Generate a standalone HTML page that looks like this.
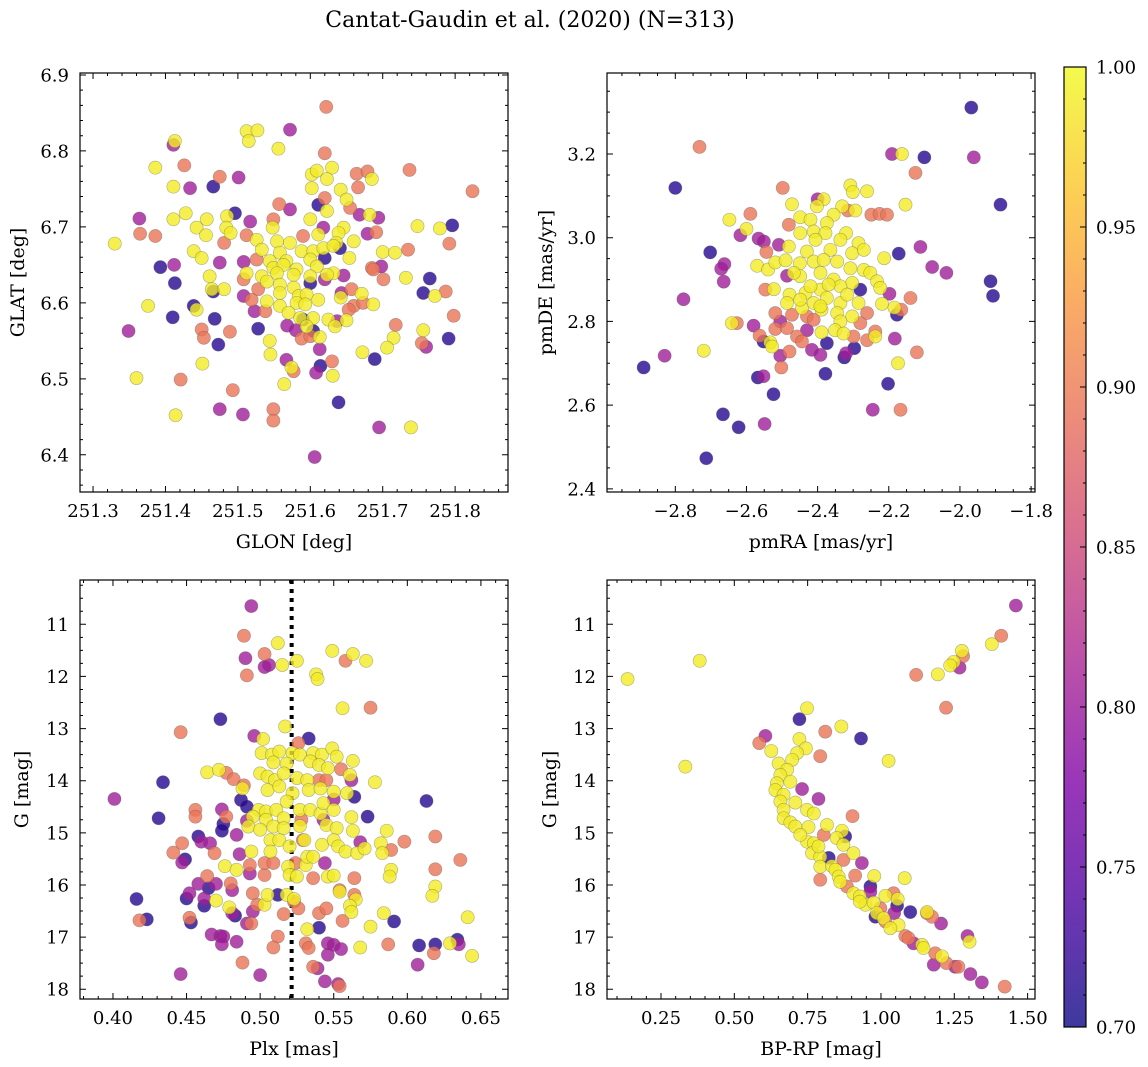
<!DOCTYPE html>
<html><head><meta charset="utf-8">
<style>
html,body{margin:0;padding:0;background:#fff;}
svg{display:block;font-family:"DejaVu Serif","Liberation Serif",serif;}
</style></head>
<body>
<svg id="fig" width="1148" height="1067" viewBox="0 0 1148 1067" xmlns="http://www.w3.org/2000/svg">
<text x="530" y="27" text-anchor="middle" font-size="22">Cantat-Gaudin et al. (2020) (N=313)</text>
</svg>
<script>
// ---------- Panel 1: GLON / GLAT ----------
const p1x=[251.622,251.572,251.512,251.527,251.515,251.413,251.411,251.556,251.620,251.386,251.426,251.737,251.475,251.501,251.411,251.434,251.466,251.602,251.609,251.630,251.623,251.664,251.679,251.685,251.666,251.602,251.642,251.824,251.650,251.620,251.611,251.655,251.557,251.572,251.364,251.411,251.428,251.457,251.485,251.496,251.517,251.549,251.600,251.623,251.668,251.682,251.694,251.748,251.779,251.796,251.365,251.386,251.330,251.443,251.456,251.484,251.490,251.512,251.548,251.618,251.646,251.639,251.679,251.691,251.792,251.481,251.526,251.554,251.572,251.590,251.611,251.636,251.660,251.439,251.533,251.558,251.588,251.604,251.618,251.632,251.641,251.700,251.717,251.735,251.450,251.475,251.508,251.526,251.544,251.567,251.600,251.620,251.654,251.393,251.412,251.549,251.563,251.581,251.609,251.632,251.685,251.698,251.512,251.533,251.554,251.577,251.600,251.623,251.646,251.687,251.701,251.732,251.765,251.413,251.461,251.508,251.540,251.600,251.620,251.558,251.577,251.756,251.787,251.772,251.466,251.464,251.481,251.508,251.528,251.558,251.584,251.595,251.643,251.642,251.657,251.671,251.519,251.540,251.558,251.581,251.593,251.611,251.660,251.673,251.687,251.376,251.439,251.443,251.523,251.538,251.570,251.586,251.604,251.653,251.798,251.410,251.468,251.590,251.625,251.637,251.650,251.718,251.349,251.450,251.453,251.489,251.528,251.568,251.580,251.595,251.604,251.634,251.756,251.715,251.791,251.473,251.544,251.588,251.600,251.613,251.706,251.754,251.760,251.545,251.613,251.672,251.689,251.567,251.630,251.451,251.574,251.577,251.614,251.608,251.631,251.360,251.421,251.564,251.493,251.639,251.475,251.549,251.549,251.507,251.414,251.695,251.739,251.606];
const p1y=[6.858,6.828,6.826,6.827,6.813,6.813,6.808,6.803,6.797,6.778,6.781,6.775,6.766,6.765,6.753,6.751,6.753,6.769,6.774,6.778,6.763,6.770,6.773,6.763,6.752,6.751,6.749,6.747,6.736,6.738,6.729,6.725,6.730,6.723,6.711,6.710,6.718,6.710,6.714,6.718,6.707,6.710,6.710,6.721,6.716,6.716,6.712,6.701,6.698,6.702,6.691,6.688,6.678,6.699,6.689,6.699,6.692,6.689,6.699,6.699,6.699,6.692,6.691,6.693,6.678,6.679,6.683,6.681,6.679,6.688,6.690,6.679,6.681,6.668,6.670,6.666,6.668,6.668,6.672,6.675,6.672,6.667,6.666,6.670,6.659,6.653,6.654,6.657,6.655,6.655,6.657,6.659,6.659,6.647,6.650,6.646,6.650,6.644,6.648,6.639,6.646,6.648,6.639,6.635,6.639,6.637,6.635,6.637,6.636,6.644,6.631,6.633,6.632,6.626,6.635,6.631,6.628,6.626,6.631,6.624,6.620,6.613,6.615,6.609,6.615,6.618,6.618,6.609,6.618,6.613,6.609,6.611,6.613,6.607,6.618,6.612,6.604,6.602,6.596,6.600,6.598,6.604,6.596,6.600,6.598,6.596,6.596,6.591,6.589,6.589,6.587,6.580,6.580,6.591,6.583,6.581,6.579,6.578,6.578,6.576,6.577,6.571,6.563,6.565,6.554,6.562,6.566,6.570,6.564,6.569,6.563,6.569,6.564,6.554,6.553,6.545,6.550,6.553,6.556,6.555,6.541,6.547,6.542,6.532,6.539,6.535,6.526,6.525,6.523,6.520,6.515,6.510,6.517,6.508,6.504,6.501,6.499,6.493,6.485,6.469,6.460,6.460,6.445,6.453,6.452,6.436,6.436,6.397];
const p1c=[.895,.805,.99,.99,.99,.99,.805,.99,.895,.99,.895,.895,.895,.805,.99,.805,.715,.99,.99,.99,.99,.895,.895,.99,.895,.99,.99,.895,.99,.895,.715,.895,.895,.805,.805,.99,.99,.99,.99,.715,.805,.895,.99,.99,.805,.99,.805,.99,.99,.715,.895,.895,.99,.99,.99,.99,.99,.895,.99,.805,.99,.99,.805,.895,.895,.895,.99,.99,.99,.895,.99,.99,.99,.99,.99,.99,.99,.99,.99,.99,.715,.99,.99,.895,.99,.805,.805,.895,.99,.99,.99,.715,.99,.715,.805,.99,.99,.99,.99,.99,.895,.805,.99,.99,.99,.99,.99,.99,.805,.895,.895,.99,.715,.715,.99,.895,.99,.715,.805,.99,.99,.715,.895,.99,.715,.99,.99,.805,.895,.99,.99,.99,.805,.99,.895,.99,.895,.99,.99,.99,.99,.99,.895,.895,.99,.99,.715,.99,.805,.895,.99,.99,.99,.895,.895,.715,.715,.715,.99,.805,.99,.895,.805,.895,.895,.895,.715,.805,.805,.99,.715,.99,.99,.99,.715,.715,.99,.895,.895,.99,.99,.895,.805,.99,.805,.99,.715,.805,.895,.99,.99,.895,.715,.805,.99,.99,.895,.99,.895,.715,.805,.895,.895,.805,.99,.805,.99,.805];

// ---------- Panel 2: pmRA / pmDE ----------
const p2x=[-1.968,-2.732,-2.800,-2.191,-2.163,-2.100,-1.961,-2.125,-2.498,-1.886,-2.308,-2.301,-2.261,-2.153,-2.472,-2.400,-2.383,-2.402,-2.331,-2.315,-2.294,-2.355,-2.249,-2.226,-2.205,-2.589,-2.648,-2.449,-2.420,-2.481,-2.600,-2.617,-2.566,-2.551,-2.509,-2.702,-2.449,-2.411,-2.374,-2.378,-2.320,-2.406,-2.336,-2.285,-2.544,-2.481,-2.430,-2.364,-2.303,-2.270,-2.172,-2.111,-2.662,-2.671,-2.664,-2.570,-2.539,-2.519,-2.490,-2.450,-2.411,-2.383,-2.345,-2.308,-2.270,-2.213,-2.078,-2.038,-1.914,-1.907,-2.777,-2.486,-2.449,-2.392,-2.355,-2.303,-2.252,-2.233,-2.547,-2.523,-2.479,-2.434,-2.392,-2.336,-2.280,-2.224,-2.198,-2.139,-2.486,-2.444,-2.411,-2.374,-2.336,-2.285,-2.219,-2.184,-2.165,-2.519,-2.472,-2.430,-2.389,-2.345,-2.303,-2.261,-2.177,-2.641,-2.627,-2.580,-2.505,-2.411,-2.336,-2.280,-2.563,-2.519,-2.486,-2.430,-2.389,-2.351,-2.327,-2.299,-2.238,-2.238,-2.458,-2.552,-2.533,-2.528,-2.444,-2.374,-2.261,-2.183,-2.505,-2.479,-2.416,-2.392,-2.320,-2.297,-2.325,-2.720,-2.830,-2.889,-2.502,-2.121,-2.174,-2.378,-2.568,-2.552,-2.202,-2.524,-2.245,-2.167,-2.666,-2.622,-2.549,-2.713,-2.467,-2.420,-2.369,-2.317,-2.449,-2.392];
const p2y=[3.311,3.217,3.119,3.200,3.200,3.192,3.192,3.155,3.119,3.079,3.125,3.109,3.111,3.079,3.080,3.092,3.092,3.075,3.075,3.065,3.065,3.055,3.055,3.057,3.055,3.057,3.043,3.049,3.043,3.031,3.021,3.006,2.998,2.991,2.983,2.965,3.011,3.015,3.035,3.011,3.011,2.995,2.995,2.987,2.966,2.979,2.967,2.971,2.963,2.971,2.962,2.978,2.937,2.926,2.895,2.933,2.924,2.941,2.946,2.939,2.943,2.947,2.943,2.927,2.923,2.951,2.930,2.916,2.896,2.861,2.853,2.909,2.908,2.916,2.900,2.892,2.916,2.896,2.876,2.877,2.864,2.868,2.876,2.884,2.876,2.880,2.866,2.856,2.844,2.832,2.844,2.856,2.844,2.844,2.842,2.833,2.828,2.820,2.816,2.812,2.828,2.820,2.812,2.820,2.816,2.796,2.796,2.790,2.800,2.804,2.800,2.796,2.766,2.782,2.784,2.779,2.774,2.779,2.771,2.764,2.776,2.764,2.764,2.752,2.750,2.740,2.752,2.748,2.755,2.759,2.718,2.728,2.732,2.720,2.724,2.736,2.714,2.730,2.718,2.690,2.690,2.726,2.700,2.675,2.666,2.669,2.651,2.626,2.589,2.589,2.578,2.547,2.555,2.473,2.916,2.884,2.888,2.864,2.852,2.836];
const p2c=[.715,.895,.715,.805,.99,.715,.805,.895,.895,.715,.99,.99,.99,.99,.99,.805,.99,.99,.99,.895,.99,.99,.895,.895,.895,.895,.99,.99,.99,.895,.99,.805,.805,.805,.805,.715,.99,.99,.99,.99,.99,.99,.99,.99,.895,.99,.99,.99,.99,.99,.715,.805,.805,.805,.805,.99,.99,.99,.99,.99,.99,.99,.99,.99,.99,.99,.805,.805,.715,.715,.805,.805,.99,.99,.99,.99,.99,.99,.895,.99,.99,.99,.99,.99,.715,.99,.805,.895,.99,.99,.99,.99,.99,.99,.99,.99,.895,.895,.895,.895,.99,.99,.99,.895,.715,.99,.895,.805,.805,.895,.99,.895,.895,.895,.895,.805,.99,.99,.99,.895,.895,.99,.895,.715,.99,.99,.895,.715,.895,.805,.805,.895,.805,.805,.805,.715,.715,.99,.805,.715,.895,.895,.99,.715,.715,.805,.715,.715,.805,.895,.715,.715,.805,.715,.99,.99,.99,.99,.99,.99];

// ---------- Panel 3: Plx / G ----------
const p3x=[0.494,0.489,0.512,0.503,0.490,0.503,0.506,0.515,0.525,0.491,0.549,0.563,0.558,0.572,0.538,0.539,0.556,0.575,0.473,0.517,0.446,0.496,0.502,0.533,0.526,0.464,0.472,0.477,0.482,0.489,0.488,0.434,0.401,0.501,0.508,0.513,0.522,0.527,0.536,0.542,0.549,0.552,0.563,0.509,0.518,0.534,0.540,0.546,0.555,0.561,0.562,0.578,0.500,0.505,0.510,0.516,0.525,0.532,0.540,0.545,0.505,0.513,0.522,0.533,0.541,0.550,0.559,0.564,0.550,0.487,0.491,0.613,0.456,0.456,0.474,0.431,0.477,0.475,0.474,0.491,0.499,0.504,0.511,0.518,0.527,0.534,0.541,0.543,0.550,0.495,0.504,0.516,0.528,0.543,0.562,0.573,0.492,0.500,0.509,0.516,0.527,0.545,0.552,0.563,0.586,0.484,0.458,0.460,0.466,0.447,0.441,0.449,0.447,0.469,0.486,0.494,0.507,0.507,0.513,0.520,0.530,0.529,0.542,0.550,0.553,0.558,0.566,0.571,0.568,0.582,0.583,0.589,0.598,0.619,0.636,0.476,0.484,0.493,0.493,0.464,0.503,0.503,0.509,0.519,0.520,0.525,0.524,0.531,0.532,0.536,0.536,0.544,0.546,0.550,0.564,0.589,0.588,0.619,0.619,0.617,0.416,0.450,0.452,0.458,0.465,0.470,0.462,0.462,0.480,0.481,0.470,0.479,0.483,0.481,0.495,0.495,0.498,0.503,0.505,0.512,0.518,0.523,0.526,0.523,0.516,0.540,0.545,0.554,0.554,0.564,0.565,0.561,0.562,0.556,0.532,0.540,0.584,0.591,0.575,0.641,0.418,0.423,0.452,0.453,0.491,0.494,0.467,0.473,0.475,0.474,0.484,0.512,0.509,0.531,0.533,0.546,0.550,0.555,0.546,0.568,0.587,0.608,0.619,0.618,0.629,0.634,0.635,0.644,0.607,0.488,0.446,0.500,0.536,0.539,0.544,0.553,0.554];
const p3y=[10.65,11.22,11.36,11.57,11.65,11.82,11.78,11.78,11.70,11.98,11.51,11.57,11.70,11.70,11.96,12.05,12.61,12.60,12.82,12.96,13.07,13.14,13.20,13.19,13.28,13.84,13.79,13.85,13.97,14.09,14.15,14.03,14.35,13.47,13.50,13.44,13.47,13.50,13.47,13.50,13.38,13.54,13.62,13.65,13.67,13.63,13.70,13.76,13.78,13.89,13.99,14.03,13.86,13.92,13.99,13.86,13.95,13.99,13.99,13.99,14.18,14.11,14.24,14.18,14.15,14.21,14.24,14.31,14.36,14.37,14.50,14.39,14.56,14.69,14.55,14.72,14.69,14.83,14.96,14.77,14.56,14.59,14.56,14.40,14.56,14.56,14.63,14.43,14.56,14.69,14.75,14.72,14.75,14.75,14.70,14.69,14.88,14.94,14.88,14.91,14.87,14.85,14.91,14.96,14.96,15.04,15.07,15.17,15.20,15.20,15.38,15.51,15.57,15.39,15.41,15.36,15.14,15.36,15.14,15.26,15.14,15.14,15.23,15.14,15.26,15.36,15.39,15.30,15.18,15.20,15.39,15.33,15.17,15.07,15.52,15.64,15.71,15.78,15.62,15.83,15.81,15.58,15.58,15.65,15.81,15.84,15.58,15.62,15.46,15.46,15.87,15.58,15.84,15.82,15.87,15.71,15.84,15.70,16.03,16.21,16.27,16.26,16.16,15.98,16.06,15.98,16.26,16.40,15.97,16.10,16.30,16.43,16.59,16.54,16.16,16.51,16.38,16.38,16.19,16.19,16.19,16.32,16.45,16.27,16.56,16.54,16.45,16.13,16.10,16.19,16.28,16.40,16.52,16.69,16.85,16.82,16.54,16.70,16.80,16.62,16.68,16.66,16.63,16.72,16.74,16.74,16.95,16.98,16.99,17.14,17.09,16.99,17.20,17.12,17.21,17.12,17.15,17.23,17.34,17.20,17.14,17.16,17.14,17.31,17.12,17.05,17.14,17.36,17.53,17.49,17.71,17.73,17.57,17.60,17.85,17.90,17.94];
const p3c=[.805,.895,.99,.895,.805,.805,.805,.99,.99,.895,.99,.99,.895,.99,.99,.99,.99,.895,.715,.99,.895,.805,.99,.715,.895,.99,.99,.895,.895,.895,.99,.715,.805,.99,.99,.99,.99,.99,.99,.99,.99,.99,.99,.99,.99,.99,.99,.99,.895,.99,.805,.99,.99,.99,.99,.99,.99,.99,.895,.895,.99,.99,.99,.99,.99,.99,.99,.715,.805,.715,.715,.715,.895,.895,.805,.715,.895,.715,.715,.805,.99,.99,.99,.99,.99,.99,.99,.99,.99,.99,.99,.99,.895,.805,.99,.715,.99,.99,.99,.99,.99,.99,.99,.99,.99,.805,.715,.805,.805,.895,.895,.715,.805,.895,.805,.99,.99,.99,.99,.99,.99,.895,.99,.99,.99,.99,.99,.99,.805,.99,.99,.895,.895,.895,.895,.99,.99,.805,.895,.895,.895,.895,.895,.99,.99,.99,.895,.99,.99,.99,.895,.805,.99,.99,.895,.99,.99,.895,.99,.99,.715,.715,.805,.805,.715,.805,.805,.715,.895,.805,.99,.99,.715,.805,.895,.805,.895,.99,.99,.715,.99,.895,.895,.99,.895,.895,.895,.99,.895,.895,.99,.99,.99,.895,.99,.715,.99,.715,.99,.99,.895,.715,.895,.715,.805,.895,.805,.805,.805,.805,.805,.895,.895,.895,.895,.805,.805,.805,.805,.99,.895,.715,.715,.895,.99,.715,.805,.99,.805,.895,.805,.805,.895,.805,.805,.805,.895];

// ---------- Panel 4: BP-RP / G ----------
const p4x=[1.460,1.410,1.378,1.276,1.280,1.248,1.236,1.268,1.194,1.120,0.382,0.136,1.222,0.748,0.722,0.865,0.810,0.932,0.606,0.585,0.333,1.026,0.722,0.626,0.744,0.793,0.714,0.697,0.651,0.680,0.657,0.645,0.691,0.731,0.787,0.640,0.668,0.657,0.708,0.668,0.748,0.771,0.903,0.668,0.691,0.708,0.753,0.816,0.805,0.867,0.849,0.878,0.748,0.771,0.872,0.765,0.793,0.822,0.906,0.935,0.872,0.793,0.833,0.845,0.856,0.912,0.793,0.977,1.081,0.884,0.906,0.928,0.964,0.964,1.015,1.043,1.057,1.055,1.100,0.947,0.975,0.998,0.986,0.981,1.009,1.015,1.045,1.060,1.032,1.157,1.157,1.174,1.205,1.083,1.094,1.111,1.140,1.145,1.185,1.208,1.180,1.223,1.253,1.264,1.295,1.302,1.305,1.344,1.422,0.725,0.787,0.861,0.928];
const p4y=[10.64,11.22,11.38,11.51,11.61,11.72,11.79,11.83,11.96,11.97,11.70,12.05,12.60,12.61,12.82,12.96,13.06,13.19,13.14,13.28,13.73,13.62,13.20,13.43,13.38,13.53,13.47,13.60,13.67,13.79,13.89,14.05,14.02,14.16,14.35,14.18,14.27,14.40,14.42,14.56,14.56,14.63,14.68,14.72,14.80,14.88,14.89,14.85,15.04,14.96,15.10,15.07,15.17,15.20,15.23,15.39,15.46,15.48,15.39,15.58,15.52,15.65,15.64,15.71,15.84,15.82,15.90,15.83,15.87,16.03,16.16,16.22,16.03,16.13,16.21,16.16,16.27,16.40,16.52,16.38,16.34,16.45,16.54,16.61,16.64,16.70,16.54,16.77,16.83,16.54,16.52,16.61,16.74,16.98,17.02,17.12,17.15,17.21,17.31,17.37,17.53,17.50,17.57,17.57,16.98,17.09,17.71,17.87,17.95,15.04,15.26,15.94,16.32];
const p4c=[.805,.895,.99,.99,.895,.99,.99,.805,.99,.895,.99,.99,.895,.99,.715,.99,.895,.715,.805,.895,.99,.99,.99,.99,.99,.895,.99,.99,.99,.99,.99,.99,.99,.805,.805,.99,.99,.99,.99,.99,.99,.99,.895,.99,.99,.99,.99,.99,.895,.99,.99,.715,.99,.99,.99,.99,.99,.715,.99,.805,.895,.99,.99,.99,.99,.895,.895,.99,.99,.895,.99,.99,.715,.805,.99,.895,.99,.715,.715,.99,.99,.895,.99,.715,.99,.895,.805,.99,.99,.895,.99,.895,.805,.895,.895,.805,.99,.99,.895,.99,.805,.895,.805,.895,.805,.99,.805,.805,.895,.99,.99,.99,.99];

// colorbar ticks
const cbTicks=[0.70,0.75,0.80,0.85,0.90,0.95,1.00];
const cbMin=0.70, cbMax=1.00;

// ---------- rendering ----------
const NS='http://www.w3.org/2000/svg';
const svg=document.getElementById('fig');
function mk(tag,attrs,parent){const e=document.createElementNS(NS,tag);for(const k in attrs)e.setAttribute(k,attrs[k]);(parent||svg).appendChild(e);return e;}
const plasmaStops=[[13,8,135],[76,2,161],[126,3,168],[169,35,149],[204,71,120],[230,108,92],[248,149,64],[253,197,39],[240,249,33]];
function plasma(t){t=Math.max(0,Math.min(1,t));const s=t*8;const i=Math.min(7,Math.floor(s));const f=s-i;const a=plasmaStops[i],b=plasmaStops[i+1];return 'rgb('+[0,1,2].map(k=>Math.round(a[k]+(b[k]-a[k])*f)).join(',')+')';}
function cnorm(v){return (v-cbMin)/(cbMax-cbMin);}

function panel(o){
  const g=mk('g',{});
  
  
  const sx=v=>o.L+(v-o.x0)/(o.x1-o.x0)*o.W;
  const sy=o.inv? (v=>o.T+(v-o.y0)/(o.y1-o.y0)*o.H) : (v=>o.T+o.H-(v-o.y0)/(o.y1-o.y0)*o.H);
  const clipId='clip-'+o.name;
  const cp=mk('clipPath',{id:clipId},g);mk('rect',{x:o.L,y:o.T,width:o.W,height:o.H},cp);
  const pg=mk('g',{'clip-path':'url(#'+clipId+')'},g);
  if(o.vline!==undefined){
    const vl=mk('line',{x1:sx(o.vline),x2:sx(o.vline),y1:o.T,y2:o.T+o.H,stroke:'#000','stroke-width':4,'stroke-dasharray':'4 5'},pg);
    
    
  }
  const n=Math.min(o.xs.length,o.ys.length,o.cs.length);
  const idx=[...Array(n).keys()].sort((a,b)=>o.cs[a]-o.cs[b]);
  idx.forEach(i=>{
    const c=mk('circle',{cx:sx(o.xs[i]),cy:sy(o.ys[i]),r:6.6,fill:plasma(cnorm(o.cs[i])),'fill-opacity':0.8,stroke:'#555','stroke-opacity':0.45,'stroke-width':0.6},pg);
    
    
  });
  const fr=mk('rect',{x:o.L,y:o.T,width:o.W,height:o.H,fill:'none',stroke:'#000','stroke-width':1.2},g);
  
  
  const eps=1e-9;
  function ticks(a,b,step){const r=[];let s=Math.ceil((a-eps)/step);for(let v=s*step;v<=b+eps;v+=step)r.push(+v.toFixed(6));return r;}
  let d='';
  ticks(o.x0,o.x1,o.xmin).forEach(v=>{const x=sx(v);d+=`M${x} ${o.T+o.H}v-3M${x} ${o.T}v3`;});
  ticks(o.x0,o.x1,o.xmaj).forEach(v=>{const x=sx(v);d+=`M${x} ${o.T+o.H}v-6M${x} ${o.T}v6`;});
  ticks(Math.min(o.y0,o.y1),Math.max(o.y0,o.y1),o.ymin).forEach(v=>{const y=sy(v);d+=`M${o.L} ${y}h3M${o.L+o.W} ${y}h-3`;});
  ticks(Math.min(o.y0,o.y1),Math.max(o.y0,o.y1),o.ymaj).forEach(v=>{const y=sy(v);d+=`M${o.L} ${y}h6M${o.L+o.W} ${y}h-6`;});
  mk('path',{d:d,stroke:'#000','stroke-width':1,fill:'none'},g);
  o.xlabels.forEach(v=>{
    const t=mk('text',{x:sx(v),y:o.T+o.H+25,'text-anchor':'middle','font-size':18},g);
    t.textContent=o.fx(v);
    
    
  });
  o.ylabels.forEach(v=>{
    const t=mk('text',{x:o.L-11,y:sy(v)+6.5,'text-anchor':'end','font-size':18},g);
    t.textContent=o.fy(v);
    
    
  });
  const xt=mk('text',{x:o.L+o.W/2,y:o.T+o.H+56,'text-anchor':'middle','font-size':19},g);
  xt.textContent=o.xtitle;
  
  
  const yt=mk('text',{x:0,y:0,'text-anchor':'middle','font-size':19,transform:`translate(${o.ytx},${o.T+o.H/2}) rotate(-90)`},g);
  yt.textContent=o.ytitle;
  
  
}
const minus=s=>s.replace('-','\u2212');
panel({name:'glon-glat-panel',L:80,T:73,W:428,H:419,x0:251.282,x1:251.873,y0:6.351,y1:6.9026,xs:p1x,ys:p1y,cs:p1c,
  xmaj:0.1,xmin:0.02,ymaj:0.1,ymin:0.02,xlabels:[251.3,251.4,251.5,251.6,251.7,251.8],ylabels:[6.4,6.5,6.6,6.7,6.8,6.9],
  fx:v=>v.toFixed(1),fy:v=>v.toFixed(1),xtitle:'GLON [deg]',ytitle:'GLAT [deg]',ytx:24});
panel({name:'pm-panel',L:607,T:73,W:428,H:419,x0:-2.992,x1:-1.789,y0:2.3924,y1:3.3936,xs:p2x,ys:p2y,cs:p2c,
  xmaj:0.2,xmin:0.05,ymaj:0.2,ymin:0.05,xlabels:[-2.8,-2.6,-2.4,-2.2,-2.0,-1.8],ylabels:[2.4,2.6,2.8,3.0,3.2],
  fx:v=>minus(v.toFixed(1)),fy:v=>v.toFixed(1),xtitle:'pmRA [mas/yr]',ytitle:'pmDE [mas/yr]',ytx:552});
panel({name:'plx-g-panel',L:80,T:580,W:428,H:419,x0:0.3776,x1:0.6684,y0:10.150,y1:18.188,inv:true,xs:p3x,ys:p3y,cs:p3c,vline:0.5214,
  xmaj:0.05,xmin:0.01,ymaj:1,ymin:0.25,xlabels:[0.40,0.45,0.50,0.55,0.60,0.65],ylabels:[11,12,13,14,15,16,17,18],
  fx:v=>v.toFixed(2),fy:v=>v.toFixed(0),xtitle:'Plx [mas]',ytitle:'G [mag]',ytx:28});
panel({name:'cmd-panel',L:607,T:580,W:428,H:419,x0:0.0659,x1:1.5252,y0:10.150,y1:18.188,inv:true,xs:p4x,ys:p4y,cs:p4c,
  xmaj:0.25,xmin:0.05,ymaj:1,ymin:0.25,xlabels:[0.25,0.50,0.75,1.00,1.25,1.50],ylabels:[11,12,13,14,15,16,17,18],
  fx:v=>v.toFixed(2),fy:v=>v.toFixed(0),xtitle:'BP-RP [mag]',ytitle:'G [mag]',ytx:556});

// colorbar
(function(){
  const L=1064,T=67,W=22,H=960;
  const g=mk('g',{});
  
  
  const defs=mk('defs',{},g);
  const lg=mk('linearGradient',{id:'cbgrad',x1:0,y1:1,x2:0,y2:0},defs);
  for(let i=0;i<=20;i++){const t=i/20;mk('stop',{offset:t,'stop-color':plasma(t),'stop-opacity':0.8},lg);}
  mk('rect',{x:L,y:T,width:W,height:H,fill:'url(#cbgrad)'},g);
  mk('rect',{x:L,y:T,width:W,height:H,fill:'none',stroke:'#000','stroke-width':1.2},g);
  const sy=v=>T+H-(v-cbMin)/(cbMax-cbMin)*H;
  let d='';
  for(let k=0;k<=30;k++){const v=cbMin+k*0.01;const y=sy(v);d+=`M${L+W} ${y}h${k%5===0?-6:-3}`;}
  mk('path',{d:d,stroke:'#000','stroke-width':1},g);
  cbTicks.forEach(v=>{
    const t=mk('text',{x:L+W+10,y:sy(v)+6.5,'font-size':18},g);
    t.textContent=v.toFixed(2);
    
    
  });
})();
</script>
</body></html>
